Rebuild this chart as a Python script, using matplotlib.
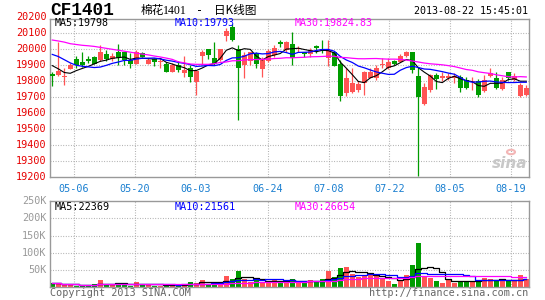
import numpy as np
import pandas as pd
import matplotlib
matplotlib.use("Agg")
import matplotlib.pyplot as plt
from matplotlib import transforms
from matplotlib.patches import Circle

# ---------------- data ----------------
opens = [19845, 19839, 19828, 19877, 19939, 19918, 19940, 19952, 19935, 19968,
         19941, 19981, 19981, 19931, 19910, 19975, 19908, 19937, 19918, 19906,
         19856, 19902, 19854, 19885, 19798, 19960, 20002, 19944, 19933, 20085,
         20140, 20002, 19900, 19929, 19975, 19879, 19925, 19962, 20046, 19995,
         20033, 19999, 19981, 19970, 20022, 20002, 19948, 19981, 19908, 19725,
         19735, 19745, 19787, 19823, 19823, 19904, 19881, 19925, 19923, 19956,
         19985, 19835, 19660, 19745, 19839, 19819, 19823, 19823, 19829, 19808,
         19793, 19805, 19741, 19833, 19823, 19752, 19856, 19808, 19706, 19716]
highs = [19860, 20045, 19885, 19912, 19958, 19983, 19958, 19958, 20026, 19995,
         19975, 20032, 19985, 19975, 19997, 19985, 19945, 19948, 19944, 19923,
         19912, 19927, 19956, 19902, 19872, 19997, 20002, 20048, 20004, 20135,
         20160, 20027, 19985, 19985, 19985, 19952, 20002, 20025, 20058, 20052,
         20106, 20020, 19985, 20006, 20030, 20058, 20058, 19985, 19935, 19881,
         19881, 19800, 19862, 19885, 19902, 19944, 19948, 19935, 19970, 19990,
         19985, 19890, 19787, 19846, 19850, 19860, 19850, 19850, 19840, 19825,
         19825, 19815, 19839, 19885, 19856, 19829, 19860, 19850, 19792, 19775]
lows = [19773, 19836, 19780, 19875, 19886, 19890, 19912, 19906, 19928, 19928,
        19930, 19905, 19905, 19885, 19906, 19950, 19906, 19898, 19881, 19856,
        19856, 19860, 19830, 19798, 19715, 19902, 19940, 19902, 19930, 20052,
        20050, 19560, 19819, 19902, 19886, 19830, 19920, 19950, 20012, 19981,
        19902, 19985, 19955, 19950, 19975, 19975, 19896, 19896, 19677, 19706,
        19730, 19735, 19717, 19819, 19810, 19885, 19875, 19902, 19920, 19950,
        19850, 19210, 19655, 19735, 19755, 19800, 19810, 19790, 19735, 19755,
        19745, 19705, 19735, 19825, 19755, 19745, 19810, 19800, 19704, 19710]
closes = [19835, 19864, 19831, 19902, 19902, 19903, 19928, 19910, 19981, 19940,
          19960, 19948, 19931, 19906, 19981, 19955, 19933, 19920, 19925, 19860,
          19902, 19869, 19870, 19830, 19866, 19981, 19966, 19906, 20002, 20114,
          20058, 19881, 19964, 19981, 19906, 19933, 19989, 20010, 20031, 20043,
          19944, 20006, 19970, 19995, 20008, 19990, 19995, 19898, 19710, 19818,
          19787, 19783, 19860, 19860, 19885, 19908, 19923, 19906, 19960, 19985,
          19871, 19704, 19766, 19839, 19815, 19835, 19835, 19833, 19760, 19760,
          19800, 19715, 19808, 19854, 19760, 19808, 19823, 19835, 19777, 19760]
volumes_k = [12.5, 9.6, 5.8, 4.8, 2.8, 3.8, 3.0, 7.7, 21.3, 9.6,
             5.8, 9.6, 5.8, 3.8, 15.4, 7.7, 5.8, 3.8, 3.8, 9.6,
             5.8, 4.8, 9.6, 15.4, 12.5, 21.3, 8.7, 15.4, 10.6, 32.9,
             24.2, 47.4, 22.0, 15.4, 19.3, 15.4, 17.4, 21.3, 17.4, 13.5,
             24.2, 13.5, 15.4, 21.3, 13.5, 24.2, 46.0, 30.0, 55.0, 59.0,
             36.8, 30.0, 35.8, 35.8, 31.9, 27.0, 17.4, 9.6, 17.4, 35.8,
             64.0, 128.8, 31.9, 25.0, 18.3, 12.5, 21.3, 12.5, 18.3, 18.3,
             17.3, 17.3, 26.0, 24.0, 17.3, 23.0, 16.0, 16.0, 34.0, 24.0]
# moving-average values before enough history is shown
ma5_head = [19898, 19878, 19855, 19850]
ma10_head = [19968, 19955, 19935, 19915, 19900, 19894, 19890, 19886, 19889]
ma30_head = [20058, 20052, 20045, 20035, 20030, 20025, 20022, 20018, 20012, 20006,
             20000, 19994, 19988, 19982, 19976, 19970, 19965, 19958, 19952, 19945,
             19937, 19922, 19915, 19908, 19906, 19906, 19906, 19910, 19918]

date_labels = ["05-06", "05-20", "06-03", "06-24", "07-08", "07-22", "08-05", "08-19"]
date_index = [4, 14, 24, 36, 46, 56, 66, 76]
price_ticks = [19200, 19300, 19400, 19500, 19600, 19700, 19800, 19900, 20000, 20100, 20200]
vol_ticks = [50000, 100000, 150000, 200000, 250000]
vol_tick_labels = ["50K", "100K", "150K", "200K", "250K"]
price_ma_text = ["MA5:19798", "MA10:19793", "MA30:19824.83"]
vol_ma_text = ["MA5:22369", "MA10:21561", "MA30:26654"]
title_code = "CF1401"
title_time = "2013-08-22 15:45:01"

# ---------------- derived ----------------
o = np.array(opens, float); h = np.array(highs, float)
l = np.array(lows, float); c = np.array(closes, float)
vol = np.array(volumes_k) * 1000
n = len(c)
x = np.arange(n)
cs = pd.Series(c)
ma5 = np.concatenate([ma5_head, cs.rolling(5).mean().values[4:]])
ma10 = np.concatenate([ma10_head, cs.rolling(10).mean().values[9:]])
ma30 = np.concatenate([ma30_head, cs.rolling(30).mean().values[29:]])
vs = pd.Series(vol)
vma5 = vs.rolling(5, min_periods=1).mean().values
vma10 = vs.rolling(10, min_periods=1).mean().values
vma30 = vs.rolling(30, min_periods=1).mean().values

RED = "#ff5454"
GREEN = "#009c00"
up = c >= o
colors = [RED if u else GREEN for u in up]

W, H = 545, 300
fig = plt.figure(figsize=(W / 100, H / 100), dpi=100)
fig.patch.set_facecolor("white")

def fx(px):
    return px / W

def fy(py):
    return 1 - py / H

L0, R0 = 50, 529.3
ax = fig.add_axes([fx(L0), fy(177.3), (R0 - L0) / W, (177.3 - 19) / H])
axv = fig.add_axes([fx(L0), fy(286.8), (R0 - L0) / W, (286.8 - 201.3) / H])

xlim = (-0.38, -0.38 + (R0 - L0) / 6.0)
grid_x = [3.62 + (k - 4) * 6.065 / 6.0 for k in date_index]
GRID = "#aaaaaa"
dots = (0, (0.8, 1.5))

for a in (ax, axv):
    a.set_xlim(*xlim)
    a.set_xticks([]); a.set_yticks([])
    for s in a.spines.values():
        s.set_color("#999999")
        s.set_linewidth(1.0)
    for gx in grid_x:
        a.axvline(gx, color=GRID, lw=0.8, ls=dots, zorder=0)

ax.set_ylim(19200, 19200 + (177.3 - 19) / 0.16)
axv.set_ylim(0, 250000)

for t in price_ticks[1:-1]:
    ax.axhline(t, color=GRID, lw=0.8, ls=dots, zorder=0)
for t in vol_ticks[:-1]:
    axv.axhline(t, color=GRID, lw=0.8, ls=dots, zorder=0)

# candles
body = np.abs(c - o)
body = np.maximum(body, 6)
ax.vlines(x, l, h, colors=colors, lw=0.9, zorder=2)
ax.bar(x, body, bottom=np.minimum(o, c), width=0.78, color=colors, zorder=3, linewidth=0)

# price MAs
ax.plot(x, ma5, color="black", lw=0.8, zorder=4)
ax.plot(x, ma10, color="#0000ff", lw=0.9, zorder=4)
ax.plot(x, ma30, color="#ff00ff", lw=0.9, zorder=4)

# volumes
axv.bar(x, vol, width=0.82, color=colors, linewidth=0, zorder=2)
axv.plot(x, vma5, color="black", lw=0.9, drawstyle="steps-mid", zorder=4)
axv.plot(x, vma10, color="#0000ff", lw=0.9, drawstyle="steps-mid", zorder=4)
axv.plot(x, vma30, color="#ff00ff", lw=0.9, drawstyle="steps-mid", zorder=4)

MONO = "DejaVu Sans Mono"
# y labels
tp = transforms.blended_transform_factory(fig.transFigure, ax.transData)
for t in price_ticks:
    fig.text(fx(46.5), t, str(t), transform=tp, ha="right", va="center",
             color="#e60000", family=MONO, fontsize=7.3)
tv = transforms.blended_transform_factory(fig.transFigure, axv.transData)
for t, lab in zip(vol_ticks, vol_tick_labels):
    fig.text(fx(46.5), t, lab, transform=tv, ha="right", va="center",
             color="#999999", family=MONO, fontsize=7.3)

# date labels
td = transforms.blended_transform_factory(ax.transData, fig.transFigure)
for gx, lab in zip(grid_x, date_labels):
    fig.text(gx, fy(188.5), lab, transform=td, ha="center", va="center",
             color="#1a7fd0", family=MONO, fontsize=7.3)

# MA labels
ma_cols = ["black", "#0000ff", "#ff00ff"]
for txt, col, px in zip(price_ma_text, ma_cols, [54.5, 174.5, 295]):
    fig.text(fx(px), fy(23.2), txt, ha="left", va="center", color=col,
             family=MONO, fontsize=7.2)
for txt, col, px in zip(vol_ma_text, ma_cols, [54.5, 174.5, 295]):
    fig.text(fx(px), fy(206.5), txt, ha="left", va="center", color=col,
             family=MONO, fontsize=7.3)

# header
fig.text(fx(50), fy(10.8), title_code, ha="left", va="center", color="black",
         family="Liberation Mono", weight="bold", fontsize=12.8)
CJK = ["Noto Sans CJK SC", "DejaVu Sans"]
fig.text(fx(140.5), fy(10.8), "棉花", ha="left", va="center", family=CJK, fontsize=8.4)
fig.text(fx(163), fy(11.2), "1401", ha="left", va="center", family="Liberation Serif", fontsize=8.6)
fig.text(fx(195.5), fy(10.8), "-", ha="left", va="center", family=MONO, fontsize=8.4)
fig.text(fx(213.5), fy(10.8), "日K线图", ha="left", va="center", family=CJK, fontsize=8.4)
fig.text(fx(528), fy(11.5), title_time, ha="right", va="center", family=MONO,
         fontsize=7.2, color="black")

# footer
fig.text(fx(50), fy(292.8), "Copyright 2013 SINA.COM", ha="left", va="center",
         family=MONO, fontsize=7.3, color="#666666")
fig.text(fx(528.5), fy(292.8), "http://finance.sina.com.cn", ha="right", va="center",
         family=MONO, fontsize=7.3, color="#666666")

# watermark
fig.text(fx(510), fy(163.5), "sina", ha="center", va="center", family="DejaVu Sans",
         style="italic", weight="bold", fontsize=11, color="#c8c8c8")
fig.patches.append(Circle((fx(511), fy(152)), 4.0 / W, transform=fig.transFigure,
                          facecolor="none", edgecolor="#f3b6b6", lw=1.5))

fig.savefig("out.png", dpi=100)
